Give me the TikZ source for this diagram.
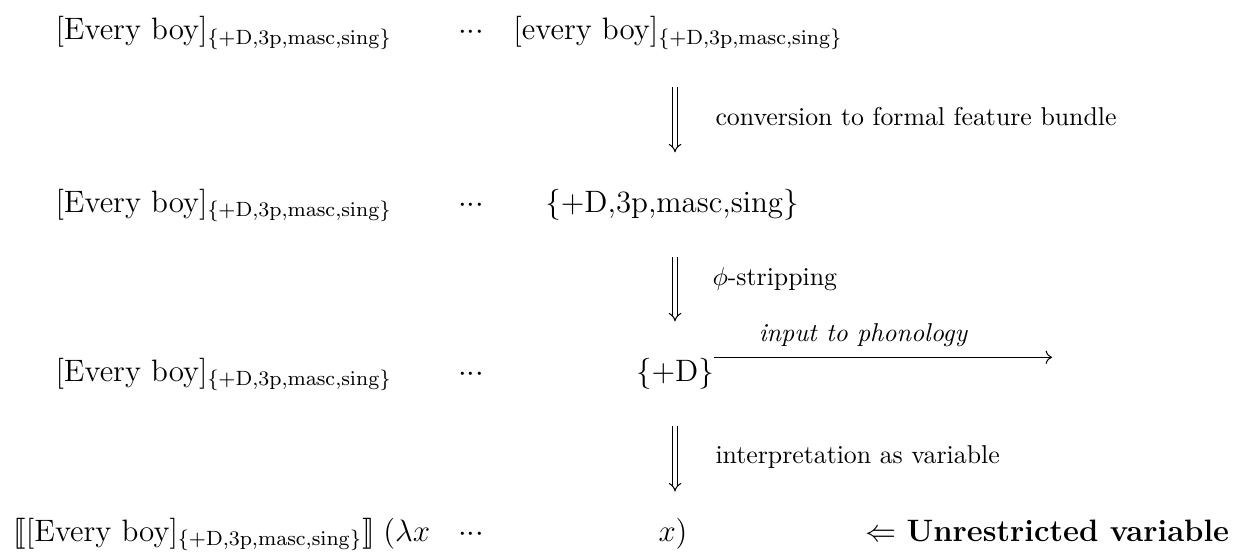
\documentclass[tikz,border=0pt,12pt]{standalone}
\usepackage{amsmath}
\usepackage{stmaryrd}
\usetikzlibrary{arrows.meta}

\newcommand{\feats}{\{+\mathrm{D,3p,masc,sing}\}}
\newcommand{\mydots}{${\cdot}{\cdot}{\cdot}$}

\tikzset{
  cell/.style={anchor=base, inner sep=0pt},
  dimp/.style={double, double distance=1.3pt, -Implies, shorten <=14.3pt, shorten >=13.9pt},
  lbl/.style={anchor=base west, inner sep=0pt, font=\footnotesize},
}

\begin{document}
\begin{tikzpicture}[x=0.3876pt, y=-0.3876pt]
    \useasboundingbox (0,0) rectangle (1240,554);
    \coordinate (col) at (675,0);
    \coordinate (phon) at (1052,0);
    % left column
    \node[anchor=base west, inner sep=0pt] (l1) at (55,40) {[Every boy]$_{\feats}$};
    \node[anchor=base west, inner sep=0pt] (l2) at (55,212) {[Every boy]$_{\feats}$};
    \node[anchor=base west, inner sep=0pt] (l3) at (55,381) {[Every boy]$_{\feats}$};
    \node[anchor=base west, inner sep=0pt] (l4) at (13,541) {$\llbracket[\text{Every boy}]_{\feats}\rrbracket\;(\lambda x$};
    \foreach \y/\n in {40/1, 212/2, 381/3, 541/4} { \node[cell] (d\n) at (471,\y) {\mydots}; }
    % right column
    \node[cell] (r1) at (678,40) {[every boy]$_{\feats}$};
    \node[cell] (r2) at (672,212) {\{+D,3p,masc,sing\}};
    \node[cell] (r3) at (675,381) {\{+D\}};
    \node[cell] (r4) at (673,541) {$x)$};
    \node[anchor=base west, inner sep=0pt] (unr) at (865,541) {$\Leftarrow$ \textbf{Unrestricted variable}};
    % derivation steps
    \draw[dimp] (r1.south -| col) -- (r2.north -| col);
    \draw[dimp] (r2.south -| col) -- (r3.north -| col);
    \draw[dimp, shorten >=10pt] (r3.south -| col) -- (r4.north -| col);
    \node[lbl] (s1) at (715,125) {conversion to formal feature bundle};
    \node[lbl] (s2) at (712,285) {$\phi$-stripping};
    \node[lbl] (s3) at (715,463) {interpretation as variable};
    \draw[->] (r3.north east) -- (r3.north east -| phon) node[pos=0.44, above, font=\footnotesize\itshape] {input to phonology};
\end{tikzpicture}
\end{document}
